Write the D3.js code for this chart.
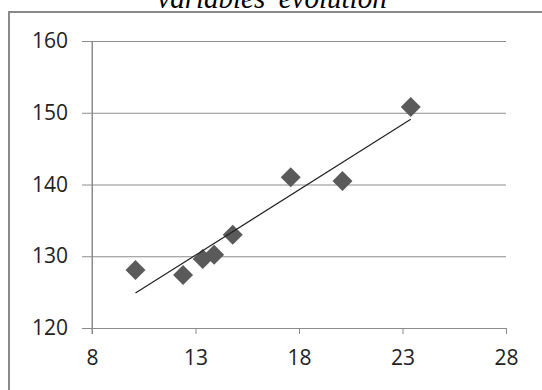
<!DOCTYPE html>
<html><head><meta charset="utf-8">
<script src="https://cdn.jsdelivr.net/npm/d3@7/dist/d3.min.js"></script>
<style>html,body{margin:0;padding:0;background:#fff;overflow:hidden}</style>
</head><body>
<svg id="c" width="542" height="390"></svg>
<script>
const title = "variables' evolution";
const xValues = [10.1, 12.4, 13.35, 13.9, 14.8, 17.6, 20.1, 23.4];
const yValues = [128.1, 127.4, 129.6, 130.2, 133.0, 141.0, 140.5, 150.8];
const xTicks = [8, 13, 18, 23, 28];
const yTicks = [120, 130, 140, 150, 160];

(function () {
const svg = d3.select("#c");
const pL = 92, pR = 506, pT = 41, pB = 328;
const x = d3.scaleLinear().domain([8, 28]).range([pL, pR]);
const y = d3.scaleLinear().domain([120, 160]).range([pB, pT]);

// outer chart border
svg.append("rect").attr("x", 9).attr("y", 12).attr("width", 560).attr("height", 400)
  .attr("fill", "none").attr("stroke", "#8a8a8a").attr("stroke-width", 2);

// title (cut at top, as in the reference)
svg.append("text").attr("x", 272).attr("y", 8).attr("text-anchor", "middle")
  .attr("font-family", "Liberation Serif").attr("font-style", "italic").attr("font-size", 29)
  .attr("fill", "#000").text(title);

const font = "'Open Sans', sans-serif";
const grid = "#8c8c8c";
// y axis with gridlines
const yAxis = d3.axisLeft(y).tickValues(yTicks).tickSize(-(pR - pL)).tickSizeOuter(0);
const gy = svg.append("g").attr("transform", `translate(${pL},0)`).call(yAxis);
gy.select(".domain").attr("stroke", grid);
gy.selectAll(".tick line").attr("stroke", grid).attr("x1", -10);
gy.selectAll(".tick text").attr("x", -24).attr("font-family", font).attr("font-size", 21).attr("fill", "#222");

const xAxis = d3.axisBottom(x).tickValues(xTicks).tickSize(6).tickSizeOuter(0).tickPadding(16);
const gx = svg.append("g").attr("transform", `translate(0,${pB})`).call(xAxis);
gx.select(".domain").attr("stroke", grid);
gx.selectAll(".tick line").attr("stroke", grid);
gx.selectAll(".tick text").attr("font-family", font).attr("font-size", 21).attr("fill", "#222");
svg.append("line").attr("x1", pL).attr("x2", pL).attr("y1", pT).attr("y2", pB + 6).attr("stroke", grid);

// points
const pts = xValues.map((v, i) => [v, yValues[i]]);
svg.append("g").selectAll("path").data(pts).join("path")
  .attr("transform", d => `translate(${x(d[0])},${y(d[1])}) rotate(45)`)
  .attr("d", d3.symbol(d3.symbolSquare, 200))
  .attr("fill", "#5a5a5a");

// linear trendline (least squares)
const mx = d3.mean(xValues), my = d3.mean(yValues);
const sxy = d3.sum(pts, d => (d[0] - mx) * (d[1] - my));
const sxx = d3.sum(pts, d => (d[0] - mx) ** 2);
const b = sxy / sxx, a = my - b * mx;
const x0 = d3.min(xValues), x1 = d3.max(xValues);
svg.append("line").attr("x1", x(x0)).attr("y1", y(a + b * x0)).attr("x2", x(x1)).attr("y2", y(a + b * x1))
  .attr("stroke", "#222").attr("stroke-width", 1.2);
})();
</script>
</body></html>
